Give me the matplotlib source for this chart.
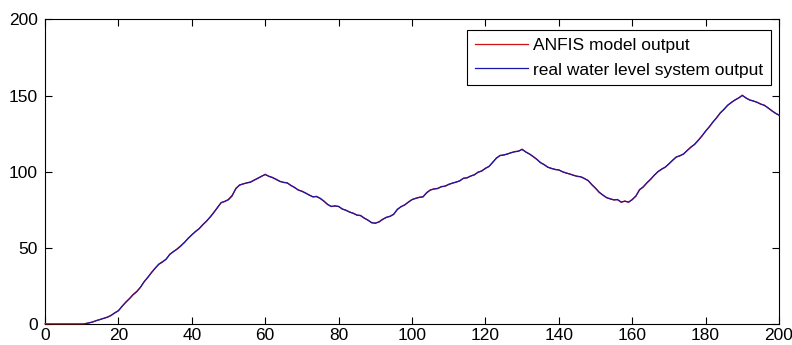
"""ANFIS model output vs real water level system output."""
import matplotlib
import matplotlib.pyplot as plt

matplotlib.use("Agg")

# real water level system output, sampled every 1 s from t = 11
real_t = list(range(11, 201))
real_level = [
    0.0, 0.5, 1.2, 2.0, 2.8, 3.5, 4.2, 5.5, 7.0, 8.5,                 # 11-20
    11.5, 14.0, 16.5, 19.0, 21.0, 24.0, 27.5, 30.5, 33.5, 36.5,       # 21-30
    39.0, 40.5, 42.5, 45.5, 47.5, 49.0, 51.0, 53.5, 56.0, 58.5,       # 31-40
    60.5, 62.5, 65.0, 67.5, 70.0, 73.0, 76.5, 79.5, 80.5, 81.5,       # 41-50
    84.0, 89.0, 91.0, 92.0, 92.5, 93.0, 94.5, 95.5, 97.0, 98.0,       # 51-60
    97.0, 96.0, 95.0, 93.5, 93.0, 92.5, 91.0, 89.5, 88.0, 87.0,       # 61-70
    86.0, 84.5, 83.5, 83.5, 82.5, 80.5, 78.5, 77.0, 77.5, 77.0,       # 71-80
    75.5, 74.5, 73.5, 72.5, 71.5, 71.0, 69.5, 68.0, 66.5, 66.0,       # 81-90
    67.0, 68.5, 70.0, 70.5, 72.0, 75.0, 77.0, 78.0, 80.0, 81.5,       # 91-100
    82.5, 83.0, 83.5, 86.0, 88.0, 88.5, 89.0, 90.0, 90.5, 91.5,       # 101-110
    92.5, 93.0, 94.0, 95.5, 96.0, 97.0, 98.0, 99.5, 100.5, 102.0,     # 111-120
    103.5, 106.0, 109.0, 110.5, 111.0, 111.5, 112.5, 113.0, 113.5, 114.5,  # 121-130
    113.0, 111.5, 110.0, 108.0, 106.0, 104.5, 103.0, 102.0, 101.5, 101.0,  # 131-140
    100.0, 99.0, 98.5, 97.5, 97.0, 96.5, 95.5, 94.0, 91.5, 89.0,      # 141-150
    86.5, 84.5, 83.0, 82.0, 81.5, 81.5, 80.0, 80.5, 80.0, 81.5,       # 151-160
    84.0, 88.0, 90.0, 92.5, 95.0, 97.5, 100.0, 101.5, 103.0, 105.0,   # 161-170
    107.5, 109.5, 110.5, 111.5, 114.0, 116.0, 118.0, 120.5, 123.5, 126.5,  # 171-180
    129.5, 132.5, 135.5, 138.5, 141.0, 143.5, 145.5, 147.0, 148.5, 150.0,  # 181-190
    148.5, 147.0, 146.5, 145.5, 144.5, 143.5, 142.0, 140.0, 138.5, 137.0,  # 191-200
]

# ANFIS model output, sampled every 1 s from t = 0
anfis_t = list(range(0, 201))
anfis_level = [
    0.0, 0.0, 0.0, 0.0, 0.0, 0.0, 0.0, 0.0, 0.0, 0.0, 0.0,            # 0-10
    0.1, 0.6, 1.1, 2.1, 2.7, 3.6, 4.4, 5.4, 7.2, 8.6,                 # 11-20
    11.3, 14.2, 16.4, 19.2, 21.3, 23.8, 27.6, 30.3, 33.7, 36.3,       # 21-30
    39.2, 40.8, 42.3, 45.7, 47.3, 49.2, 51.3, 53.4, 56.2, 58.3,       # 31-40
    60.7, 62.4, 65.2, 67.3, 70.2, 73.3, 76.2, 79.7, 80.3, 81.8,       # 41-50
    84.5, 88.6, 91.3, 91.8, 92.7, 93.2, 94.3, 95.8, 96.8, 98.3,       # 51-60
    96.8, 96.2, 94.7, 93.7, 92.8, 92.7, 90.8, 89.7, 87.8, 87.2,       # 61-70
    85.8, 84.7, 83.3, 83.8, 82.2, 80.7, 78.3, 77.2, 77.3, 77.2,       # 71-80
    75.3, 74.7, 73.3, 72.7, 71.3, 71.2, 69.3, 68.2, 66.3, 66.2,       # 81-90
    66.8, 68.7, 69.8, 70.7, 71.8, 75.3, 76.8, 78.2, 79.8, 81.7,       # 91-100
    82.3, 83.2, 83.3, 86.3, 87.8, 88.7, 88.8, 90.2, 90.3, 91.7,       # 101-110
    92.3, 93.2, 93.8, 95.7, 95.8, 97.2, 97.8, 99.7, 100.3, 102.3,     # 111-120
    103.3, 106.3, 108.7, 110.7, 110.8, 111.7, 112.3, 113.2, 113.3, 114.8,  # 121-130
    112.8, 111.7, 109.8, 108.2, 105.8, 104.7, 102.8, 102.2, 101.3, 101.2,  # 131-140
    99.8, 99.2, 98.3, 97.7, 96.8, 96.7, 95.3, 94.2, 91.3, 89.2,       # 141-150
    86.3, 84.7, 82.8, 82.2, 81.3, 81.7, 79.8, 80.7, 79.8, 81.7,       # 151-160
    83.8, 88.2, 89.8, 92.7, 94.8, 97.7, 99.8, 101.7, 102.8, 105.2,    # 161-170
    107.3, 109.7, 110.3, 111.7, 113.8, 116.2, 117.8, 120.7, 123.3, 126.7,  # 171-180
    129.3, 132.7, 135.3, 138.7, 140.8, 143.7, 145.3, 147.2, 148.3, 150.3,  # 181-190
    148.3, 147.2, 146.3, 145.7, 144.3, 143.7, 141.8, 140.2, 138.3, 137.2,  # 191-200
]

x_ticks = [0, 20, 40, 60, 80, 100, 120, 140, 160, 180, 200]
y_ticks = [0, 50, 100, 150, 200]

_RED = "#d01010"
_BLUE = "#1818a8"
_FONT = ["Liberation Sans", "DejaVu Sans"]

plt.rcParams["font.family"] = _FONT

fig = plt.figure(figsize=(7.92, 3.45), dpi=100)
ax = fig.add_axes([0.0568, 0.0617, 0.9268, 0.8818])

# lines sit on top of the axis box, like the MATLAB original
ax.plot(anfis_t, anfis_level, color=_RED, linewidth=0.9, zorder=3,
        clip_on=False, label="ANFIS model output")
ax.plot(real_t, real_level, color=_BLUE, linewidth=0.9, zorder=3,
        clip_on=False, label="real water level system output")

ax.set_xlim(0, 200)
ax.set_ylim(0, 200)
ax.set_xticks(x_ticks)
ax.set_yticks(y_ticks)
ax.tick_params(direction="in", top=True, right=True, length=5, width=0.8,
               labelsize=12.5, pad=5)
ax.tick_params(axis="x", pad=3)
for spine in ax.spines.values():
    spine.set_linewidth(0.8)

leg = ax.legend(loc="upper right", bbox_to_anchor=(0.989, 0.966),
                fontsize=12.5, frameon=True, fancybox=False, framealpha=1,
                edgecolor="black", handlelength=3.05, handletextpad=0.3,
                borderpad=0.45, labelspacing=0.55, borderaxespad=0)
leg.get_frame().set_linewidth(0.8)
leg.set_zorder(4)

fig.savefig("out.png", dpi=100, facecolor="white")
